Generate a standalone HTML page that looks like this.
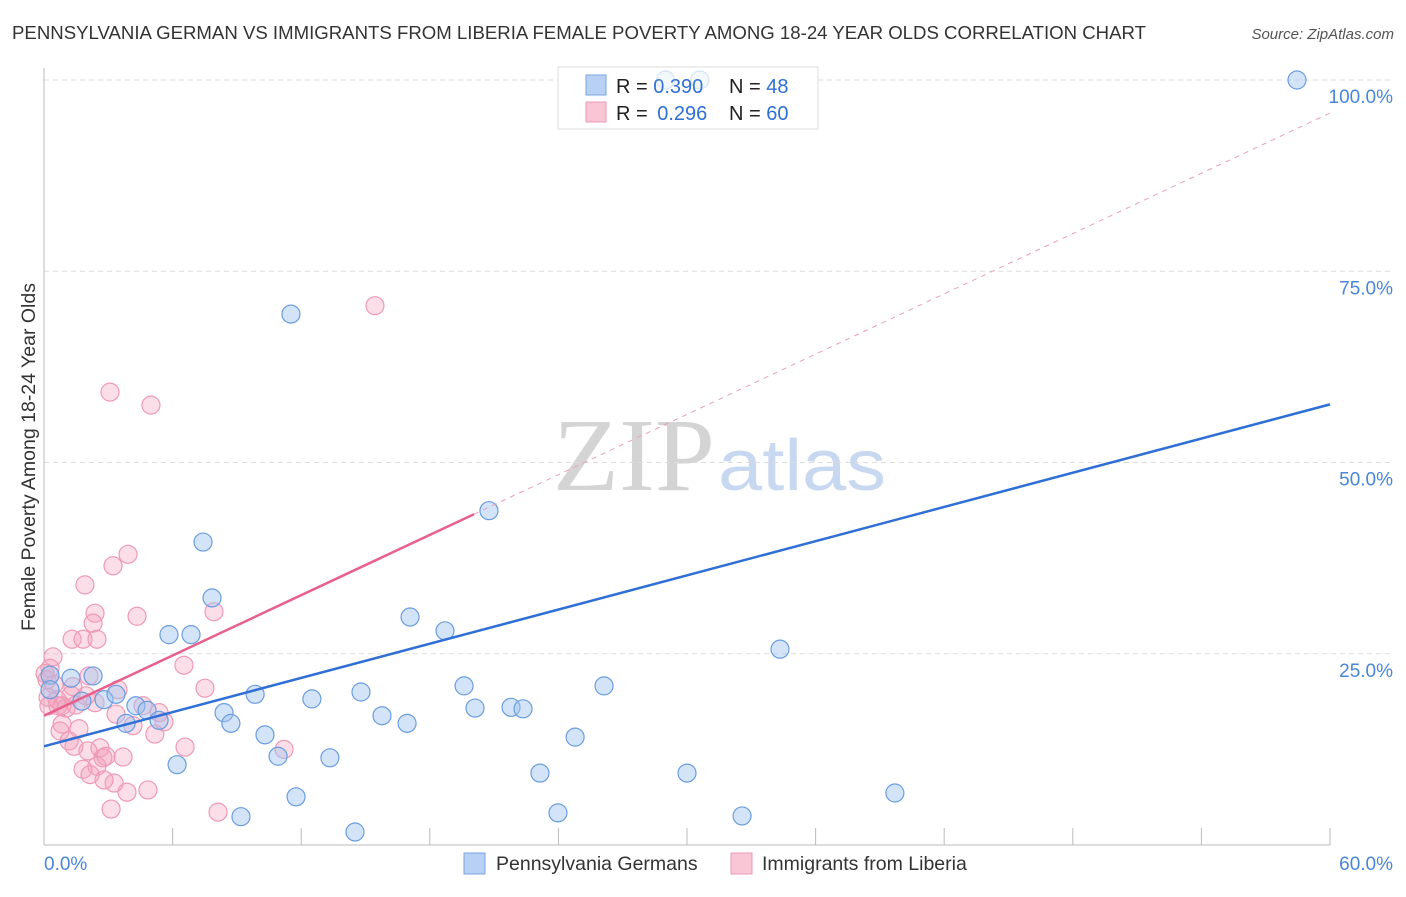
<!DOCTYPE html>
<html><head><meta charset="utf-8">
<style>
body{margin:0;background:#fff;font-family:"Liberation Sans",sans-serif;}
svg text{font-family:"Liberation Sans",sans-serif;}
</style></head>
<body>
<svg id="chart" width="1406" height="892" xmlns="http://www.w3.org/2000/svg">
<text x="12" y="39" font-size="18.5" fill="#333" textLength="1134" lengthAdjust="spacingAndGlyphs">PENNSYLVANIA GERMAN VS IMMIGRANTS FROM LIBERIA FEMALE POVERTY AMONG 18-24 YEAR OLDS CORRELATION CHART</text>
<text x="1394" y="39" font-size="15" fill="#555" font-style="italic" text-anchor="end">Source: ZipAtlas.com</text>
<g>
<text x="553" y="490" font-size="104" fill="#d4d4d4" textLength="162" lengthAdjust="spacingAndGlyphs" style="font-family:'Liberation Serif',serif">ZIP</text>
<text x="718" y="490" font-size="72" fill="#c8d8f0" textLength="168" lengthAdjust="spacingAndGlyphs">atlas</text>
</g>
<g id="grid"></g>
<g id="axes"></g>
<g id="marks"></g>
<text x="35" y="457" font-size="19.5" fill="#333" text-anchor="middle" transform="rotate(-90 35 457)">Female Poverty Among 18-24 Year Olds</text>
<g>
<rect x="558" y="67" width="260" height="62" fill="#fff" stroke="#ddd"/>
<rect x="586" y="75" width="20" height="20" fill="#b8d0f4" stroke="#7aa6e0"/>
<rect x="586" y="102" width="20" height="20" fill="#f9c6d6" stroke="#eb9ab5"/>
<text x="616" y="93" font-size="20" fill="#222">R = <tspan fill="#2f6fd6">0.390</tspan><tspan x="729">N = </tspan><tspan fill="#2f6fd6">48</tspan></text>
<text x="616" y="120" font-size="20" fill="#222">R = <tspan fill="#2f6fd6" dx="4">0.296</tspan><tspan x="729">N = </tspan><tspan fill="#2f6fd6">60</tspan></text>
</g>
<g id="over"></g>
<g>
<rect x="464" y="853" width="21" height="21" fill="#b8d0f4" stroke="#7aa6e0"/>
<text x="496" y="870" font-size="19.5" fill="#333">Pennsylvania Germans</text>
<rect x="731" y="853" width="21" height="21" fill="#f9c6d6" stroke="#eb9ab5"/>
<text x="762" y="870" font-size="19.5" fill="#333">Immigrants from Liberia</text>
</g>
</svg>
<script>
const yTicks=[25,50,75,100];
const yTickLabels=["25.0%","50.0%","75.0%","100.0%"];
const xTickLabels=["0.0%","60.0%"];
const blueX=[58.46,29.0,30.6,11.52,20.76,7.42,7.84,17.08,18.71,5.83,6.86,34.34,2.29,1.26,0.28,0.28,26.13,19.6,9.85,14.79,1.77,2.8,3.36,12.5,4.29,4.81,20.11,21.79,22.35,15.77,8.4,8.72,3.83,5.37,16.94,10.31,24.78,10.92,13.34,6.21,23.14,30.0,39.7,11.76,23.98,32.57,9.19,14.51];
const blueY=[100,100,100,69.4,43.7,39.6,32.3,29.8,28.0,27.5,27.5,25.6,22.1,21.8,22.2,20.3,20.8,20.8,19.7,20.0,18.8,19.0,19.7,19.1,18.2,17.6,17.9,18.0,17.8,16.9,17.3,15.9,15.9,16.3,15.9,14.4,14.1,11.6,11.4,10.5,9.4,9.4,6.8,6.3,4.2,3.8,3.7,1.7];
const pinkX=[15.44,3.08,4.99,3.92,3.22,1.91,2.38,4.34,7.93,2.29,1.31,1.82,2.47,0.42,6.53,0.28,2.1,0.14,1.35,0.47,3.45,7.51,1.26,1.96,2.38,0.65,1.03,0.84,4.62,5.37,3.36,5.6,4.15,0.84,0.75,1.63,5.17,6.58,1.17,1.4,2.61,2.05,11.2,2.75,2.47,1.82,3.27,2.8,3.87,4.85,3.13,8.12,0.61,1.49,2.15,3.69,2.89,0.19,0.23,0.05];
const pinkY=[70.5,59.2,57.5,38.0,36.5,34.0,30.3,29.9,30.5,29.0,26.9,26.9,26.9,24.6,23.5,23.1,22.1,21.6,20.7,21.0,20.3,20.5,19.6,19.5,18.6,18.2,17.9,18.2,18.2,17.3,17.1,16.1,15.6,15.8,14.9,15.2,14.5,12.8,13.6,12.9,12.7,12.3,12.5,11.4,10.3,9.9,8.1,8.5,6.9,7.2,4.7,4.3,19.0,18.3,9.2,11.5,11.6,19.3,18.2,22.4];
const blueTrend=[12.9,57.6];
const pinkTrend=[16.9,1.313];
const pinkSolidEnd=20.06;

const NS="http://www.w3.org/2000/svg";
const X0=44,X1=1330,Y0=845,Y100=80;
function sx(v){return X0+(X1-X0)*v/60;}
function sy(v){return Y0-(Y0-Y100)*v/100;}
function mk(tag,attrs,parent){const e=document.createElementNS(NS,tag);for(const k in attrs)e.setAttribute(k,attrs[k]);parent.appendChild(e);return e;}
const grid=document.getElementById('grid'),axes=document.getElementById('axes'),marks=document.getElementById('marks'),over=document.getElementById('over');
yTicks.forEach((t,i)=>{
  const l=mk('line',{x1:X0,x2:1394,y1:sy(t),y2:sy(t),stroke:'#ddd','stroke-dasharray':'5,4'},grid);
  
  
  const tx=mk('text',{x:1393,y:sy(t)+23,'font-size':19,fill:'#4a86d8','text-anchor':'end'},axes);
  tx.textContent=yTickLabels[i];
  
  
});
const ax=mk('line',{x1:X0,x2:X0,y1:68,y2:Y0,stroke:'#bbb'},axes);


const bx=mk('line',{x1:X0,x2:X1,y1:Y0,y2:Y0,stroke:'#bbb'},axes);


for(let v=6;v<=60;v+=6){
  const t=mk('line',{x1:sx(v),x2:sx(v),y1:828,y2:Y0,stroke:'#bbb'},axes);
  
  
}
[[0,'start',44],[60,'end',1393]].forEach((a,i)=>{
  const t=mk('text',{x:a[2],y:870,'font-size':19,fill:'#4a86d8','text-anchor':a[1]},axes);
  t.textContent=xTickLabels[i];
  
  
});
pinkX.forEach((x,i)=>{
  const c=mk('circle',{cx:sx(x),cy:sy(pinkY[i]),r:9,fill:'rgba(244,160,190,0.35)',stroke:'#ee9ab6','stroke-width':1.2},marks);
  
  
});
blueX.forEach((x,i)=>{
  const inLegend=sx(x)>550&&sx(x)<830&&sy(blueY[i])<140;
  const c=mk('circle',{cx:sx(x),cy:sy(blueY[i]),r:9,fill:inLegend?'rgba(160,195,240,0.12)':'rgba(160,195,240,0.45)',stroke:inLegend?'rgba(106,157,224,0.25)':'#6a9de0','stroke-width':1.2},inLegend?over:marks);
  
  
});
const bl=mk('line',{x1:sx(0),y1:sy(blueTrend[0]),x2:sx(60),y2:sy(blueTrend[1]),stroke:'#2f6fd6','stroke-width':2.5},marks);


const pd=mk('line',{x1:sx(pinkSolidEnd),y1:sy(pinkTrend[0]+pinkTrend[1]*pinkSolidEnd),x2:sx(60),y2:sy(pinkTrend[0]+pinkTrend[1]*60),stroke:'#e9a0b8','stroke-width':1,'stroke-dasharray':'5,5'},marks);


const pl=mk('line',{x1:sx(0),y1:sy(pinkTrend[0]),x2:sx(pinkSolidEnd),y2:sy(pinkTrend[0]+pinkTrend[1]*pinkSolidEnd),stroke:'#e8608c','stroke-width':2.5},marks);


</script>
</body></html>
